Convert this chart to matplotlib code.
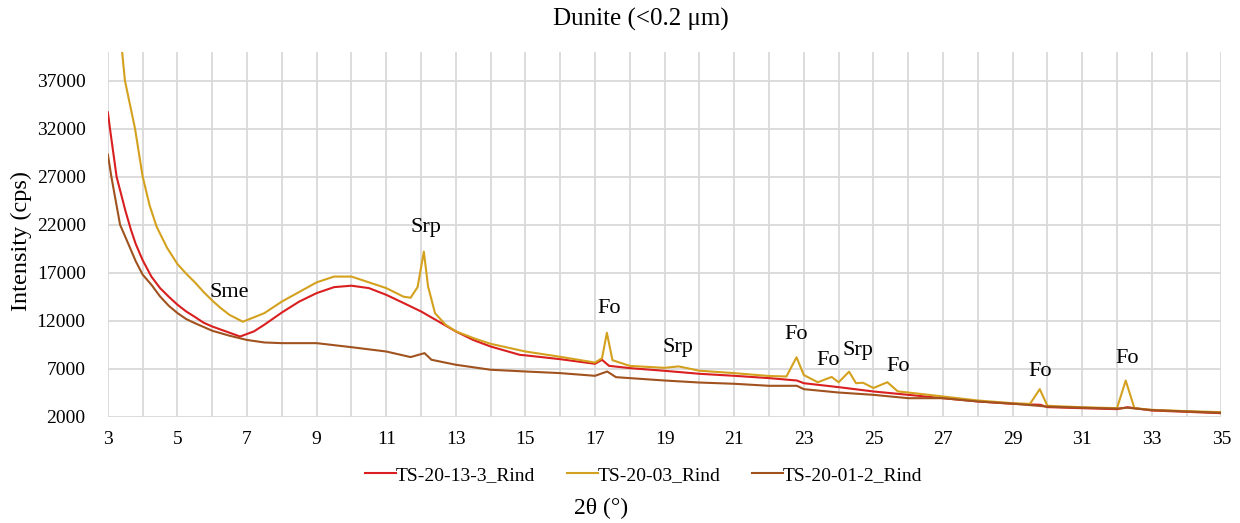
import matplotlib
matplotlib.use('Agg')
import matplotlib.pyplot as plt
import numpy as np

# --- data (2theta in degrees, intensity in cps) ---
x_1333 = [3.0, 3.06, 3.25, 3.5, 3.66, 3.8, 4.0, 4.25, 4.5, 4.75, 5.0, 5.25, 5.5, 5.75, 6.0,
          6.5, 6.8, 7.2, 7.5, 8.0, 8.5, 9.0, 9.5, 10.0, 10.5, 11.0, 11.5, 12.0, 12.5, 13.0,
          13.5, 14.0, 14.84, 15.0, 16.0, 17.0, 17.2, 17.4, 18.0, 19.0, 20.0, 21.0, 22.0,
          22.8, 23.0, 24.0, 25.0, 26.0, 27.0, 28.0, 29.0, 29.8, 30.0, 31.0, 32.0, 32.3,
          33.0, 34.0, 35.0]
y_1333 = [33700, 32000, 27000, 23500, 21500, 20000, 18300, 16600, 15400, 14500, 13670, 12970,
          12400, 11800, 11400, 10750, 10360, 10900, 11600, 12860, 14000, 14880, 15500, 15650,
          15400, 14700, 13840, 12970, 11930, 10890, 10000, 9320, 8450, 8400, 8000, 7520, 7940,
          7310, 7070, 6790, 6480, 6270, 6030, 5780, 5500, 5090, 4640, 4290, 3940, 3600, 3350,
          3250, 3010, 2900, 2800, 3000, 2660, 2520, 2380]

x_03 = [3.3, 3.49, 3.78, 4.0, 4.2, 4.4, 4.7, 5.0, 5.25, 5.5, 5.75, 6.0, 6.25, 6.5, 6.88, 7.5,
        8.0, 8.5, 9.0, 9.5, 10.0, 10.5, 11.0, 11.5, 11.7, 11.9, 12.08, 12.2, 12.4, 12.7, 13.0,
        13.5, 14.0, 15.0, 16.0, 17.0, 17.2, 17.34, 17.5, 18.0, 19.0, 19.4, 20.0, 21.0, 22.0,
        22.5, 22.79, 23.0, 23.4, 23.8, 24.0, 24.3, 24.5, 24.7, 25.0, 25.4, 25.7, 26.0, 27.0,
        28.0, 29.0, 29.5, 29.78, 30.0, 31.0, 32.0, 32.25, 32.5, 33.0, 34.0, 35.0]
y_03 = [44000, 37000, 32000, 27000, 24000, 21800, 19600, 17900, 16900, 16000, 15000, 14100,
        13300, 12600, 11900, 12800, 14000, 15000, 16000, 16600, 16600, 16000, 15400, 14500,
        14400, 15500, 19200, 15600, 12800, 11600, 10900, 10200, 9600, 8800, 8250, 7650, 8100,
        10750, 7900, 7300, 7100, 7250, 6800, 6550, 6250, 6200, 8200, 6350, 5600, 6150, 5600,
        6700, 5500, 5550, 5000, 5600, 4650, 4530, 4120, 3700, 3420, 3350, 4880, 3150, 3000,
        2900, 5780, 2900, 2730, 2590, 2490]

x_0112 = [3.0, 3.1, 3.35, 3.6, 3.8, 4.0, 4.25, 4.5, 4.75, 5.0, 5.25, 5.5, 6.0, 6.5, 7.0, 7.5,
          8.0, 9.0, 10.0, 11.0, 11.7, 12.1, 12.3, 13.0, 14.0, 15.0, 16.0, 17.0, 17.35, 17.6,
          18.0, 19.0, 20.0, 21.0, 22.0, 22.8, 23.0, 24.0, 25.0, 26.0, 27.0, 28.0, 29.0, 30.0,
          31.0, 32.0, 32.3, 33.0, 34.0, 35.0]
y_0112 = [29300, 27000, 22000, 19900, 18200, 16800, 15750, 14530, 13560, 12800, 12180, 11750,
          10960, 10440, 10000, 9740, 9670, 9670, 9250, 8800, 8220, 8630, 7940, 7420, 6900, 6720,
          6550, 6270, 6720, 6130, 6030, 5780, 5570, 5440, 5230, 5230, 4880, 4530, 4290, 3940,
          3940, 3600, 3380, 3060, 2950, 2850, 2950, 2700, 2560, 2420]

series = [('TS-20-13-3_Rind', x_1333, y_1333, '#D91F1F'),
          ('TS-20-03_Rind', x_03, y_03, '#D4A11E'),
          ('TS-20-01-2_Rind', x_0112, y_0112, '#A0521F')]

# phase labels: (text, 2theta, intensity)
peak_labels = [('Sme', 6.5, 14900), ('Srp', 12.14, 21700), ('Fo', 17.4, 13250),
               ('Srp', 19.38, 9190), ('Fo', 22.77, 10540), ('Fo', 23.7, 7830),
               ('Srp', 24.55, 8875), ('Fo', 25.7, 7200), ('Fo', 29.8, 6690),
               ('Fo', 32.3, 8040)]

plt.rcParams['font.family'] = ['Liberation Serif', 'DejaVu Serif']

fig = plt.figure(figsize=(12.4, 5.23), dpi=100)
ax = fig.add_axes([0.087, 0.203, 0.898, 0.698])

for name, xs, ys, col in series:
    ax.plot(xs, ys, '-', color=col, lw=1.5, label=name)

for txt, xv, yv in peak_labels:
    ax.text(xv, yv, txt, ha='center', va='center', fontsize=16)

ax.set_xlim(3, 35)
ax.set_ylim(2000, 40000)
ax.set_xticks(np.arange(3, 36, 2))
ax.set_xticks(np.arange(3, 36, 1), minor=True)
ax.set_yticks(np.arange(2000, 38000, 5000))
ax.tick_params(which='both', length=0, labelsize=14)
ax.tick_params(axis='x', pad=10)
ax.tick_params(axis='y', pad=16)
ax.grid(True, which='both', color='#d9d9d9', lw=1.3)
ax.set_axisbelow(True)
for s in ax.spines.values():
    s.set_visible(False)

fig.text(0.517, 0.962, 'Dunite (<0.2 μm)', ha='center', va='center', fontsize=18)
fig.text(0.017, 0.539, 'Intensity (cps)', ha='center', va='center', rotation=90, fontsize=17.5)
fig.text(0.485, 0.027, '2θ (°)', ha='center', va='center', fontsize=17)
fig.legend(loc='center', bbox_to_anchor=(0.519, 0.092), ncol=3, frameon=False,
           fontsize=14, handlelength=1.6, handletextpad=0.0, columnspacing=1.6)

plt.savefig('out.png', dpi=100)
plt.close()
